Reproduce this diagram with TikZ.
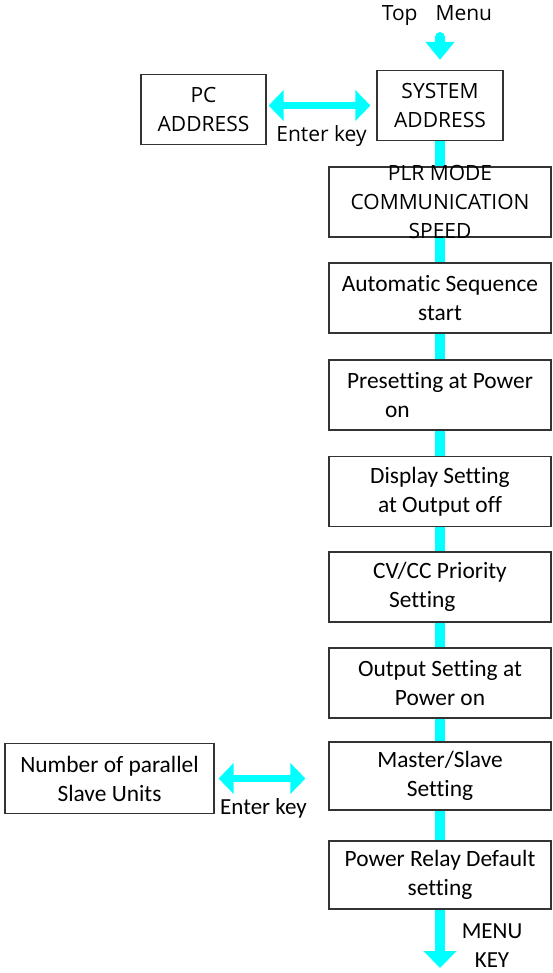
\documentclass[tikz,border=0pt]{standalone}
\usepackage{fontspec}
\setmainfont{Carlito}[Ligatures=NoCommon]
\newfontfamily\uifont{Open Sans}
\usetikzlibrary{arrows.meta}
\definecolor{flowcyan}{RGB}{0,255,255}

\begin{document}
\begin{tikzpicture}[
    x=0.5pt, y=-0.5pt,
    box/.style={draw=black!80, line width=0.6pt, fill=white, inner sep=0pt,
      minimum width=111pt, minimum height=35pt, align=center,
      font=\fontsize{11.7}{14.5}\selectfont},
    uibox/.style={box, font=\uifont\fontsize{10.5}{14.5}\selectfont},
    uitxt/.style={inner sep=0pt, align=center, font=\uifont\fontsize{10.5}{14.5}\selectfont},
    txt/.style={inner sep=0pt, align=center, font=\fontsize{11.5}{14.5}\selectfont},
    flow/.style={draw=flowcyan, line width=5pt},
    flowin/.style={flow, line cap=round, -{Triangle[width=14pt,length=9pt]}},
    flowout/.style={flow, -{Triangle[width=16pt,length=8.5pt]}},
    enter/.style={draw=flowcyan, line width=3.5pt,
      {Triangle[width=15pt,length=7.5pt]}-{Triangle[width=15pt,length=7.5pt]}}
  ]
  \useasboundingbox (0,0) rectangle (552,973);

  % Entry from the top menu
  \node[uitxt] (topm) at (437,16) {Top\hspace{9pt}Menu};
  \coordinate (menuin) at (440,37);

  % Main column
  \node[uibox, minimum width=63pt] (sys) at (440,105.5) {SYSTEM\\ADDRESS};
  \node[box] (plr)   at (440,202)   {};
  \node[box] (auto)  at (440,298)   {Automatic Sequence\\start};
  \node[box, align=left] (pres) at (440,395) {Presetting at Power\\\hspace*{19pt}on};
  \node[box] (disp)  at (440,491.5) {Display Setting\\at Output off};
  \node[box, align=left] (cvcc) at (440,587) {CV/CC Priority\\\hspace*{8pt}Setting};
  \node[box] (outp)  at (440,683)   {Output Setting at\\Power on};
  \node[box, minimum height=34pt] (ms) at (440,776) {Master/Slave\\Setting};
  \node[box, minimum height=34pt] (relay) at (440,875) {Power Relay Default\\setting};
  \coordinate (menuout) at (440,968);

  % Side boxes
  \node[uibox, minimum width=62.5pt] (pc) at (203.5,109.5) {PC\\ADDRESS};
  \node[box, minimum width=104.5pt] (nps) at (109.5,778.5) {Number of parallel\\Slave Units};

  % Flow down the column
  \draw[flowin, shorten >=5pt] (menuin) -- (sys);
  \foreach \a/\b in {sys/plr, plr/auto, auto/pres, pres/disp,
                     disp/cvcc, cvcc/outp, outp/ms, ms/relay}
    \draw[flow] (\a) -- (\b);
  \draw[flowout] (relay) -- (menuout);

  % Text of the PLR box runs over its border
  \node[uitxt] (plrtxt) at (plr.center) {PLR MODE\\COMMUNICATION\\SPEED};

  % Enter key links
  \draw[enter, shorten <=1pt, shorten >=3pt] (pc.east |- sys) -- node[uitxt, below=8.5pt] (key1) {Enter key} (sys.west);
  \draw[enter, shorten <=2pt, shorten >=11.5pt] (nps.east) -- node[txt, pos=0.43, below=8.5pt] (key2) {Enter key} (ms.west |- nps.east);

  \node[txt] (menukey) at (492,946) {MENU\\KEY};
\end{tikzpicture}
\end{document}
